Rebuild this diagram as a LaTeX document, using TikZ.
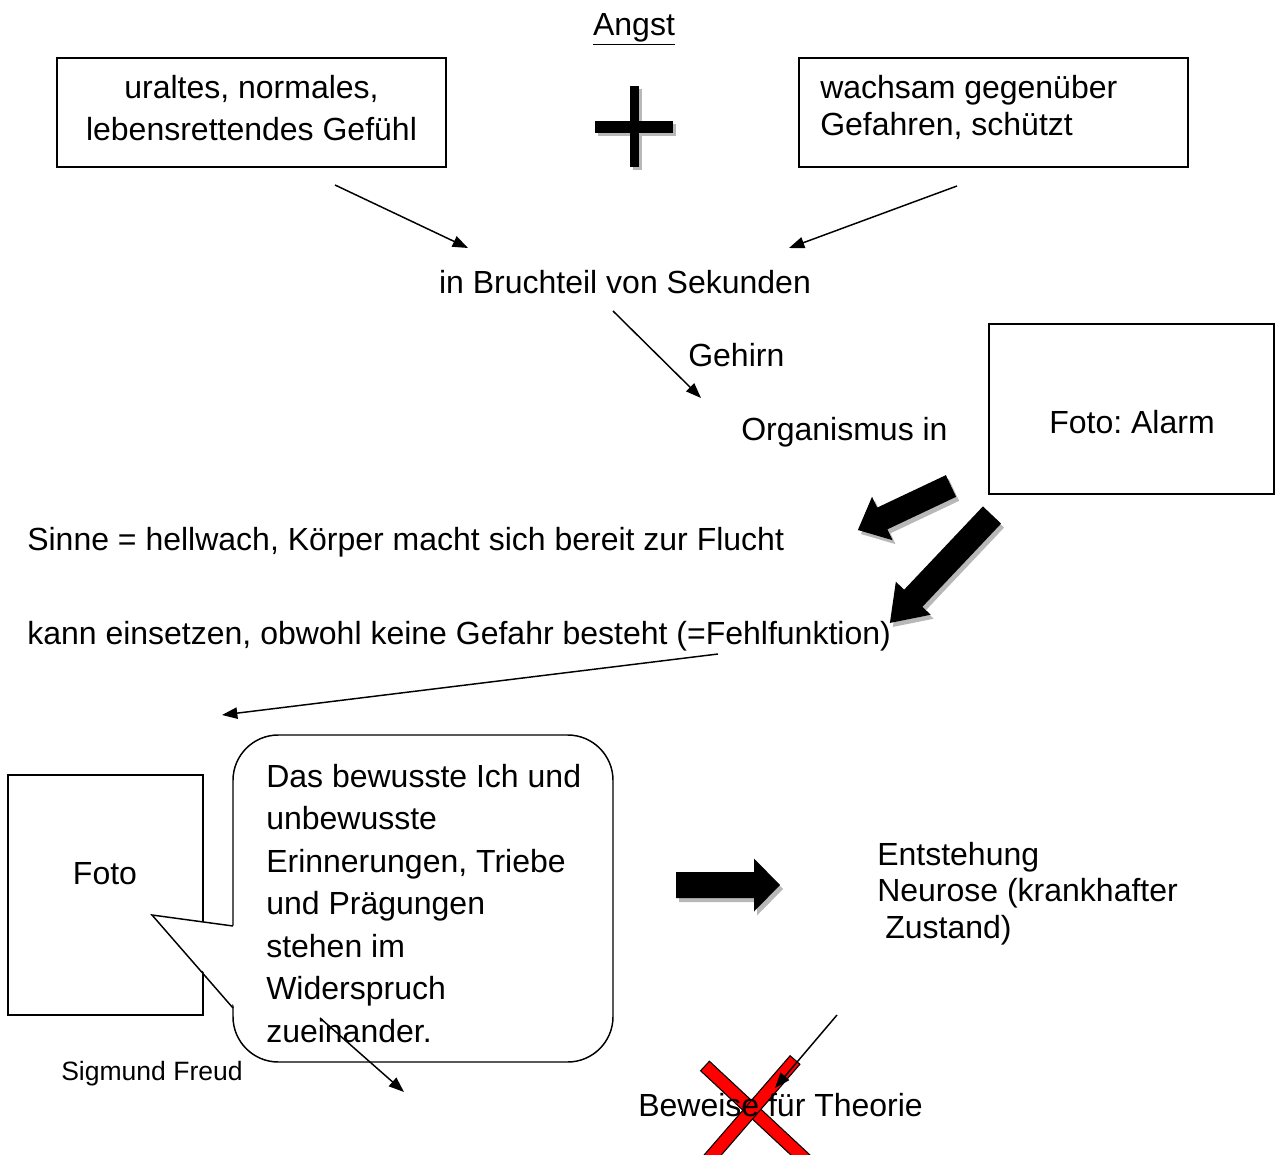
\documentclass[tikz,border=0pt]{standalone}
\usepackage{fontspec}
\setmainfont{Liberation Sans}
\usetikzlibrary{arrows.meta}
\definecolor{shadowgray}{gray}{0.72}
\frenchspacing
\newcommand\blkarrow[7]{%
  \fill[shadowgray, shift={(#1+3,#2+4)}, rotate=#3] (0,-#5) -- (#4-#7,-#5) -- (#4-#7,-#6) -- (#4,0) -- (#4-#7,#6) -- (#4-#7,#5) -- (0,#5) -- cycle;
  \fill[black, shift={(#1,#2)}, rotate=#3] (0,-#5) -- (#4-#7,-#5) -- (#4-#7,-#6) -- (#4,0) -- (#4-#7,#6) -- (#4-#7,#5) -- (0,#5) -- cycle;}
\begin{document}
\begin{tikzpicture}[x=0.75pt, y=-0.75pt, font=\fontsize{24}{28.8}\selectfont,
  box/.style={draw, line width=1.1pt, inner sep=0pt},
  txt/.style={inner sep=0pt, anchor=base west},
  ctxt/.style={inner sep=0pt, anchor=base},
  conn/.style={line width=1.1pt, -{Triangle[length=11.5pt,width=8.5pt]}},
  bar/.style={fill=red, draw=black, line width=0.8pt}]
\useasboundingbox (0,0) rectangle (1275,1155);
\clip (0,0) rectangle (1275,1155);

% title
\node[ctxt] (angst) at (634,36) {\underline{Angst}};

% top boxes
\node[box, minimum width=291.75pt, minimum height=81.75pt] (box1) at (251.5,112.5) {};
\node[ctxt] (box1a) at (251.5,99) {uraltes, normales,};
\node[ctxt] (box1b) at (251.5,141) {lebensrettendes Gefühl};
\node[box, minimum width=291.75pt, minimum height=81.75pt] (box2) at (993.5,112.5) {};
\node[txt] (box2a) at (820,99) {wachsam gegenüber};
\node[txt] (box2b) at (820,136) {Gefahren, schützt};

% plus sign
\fill[shadowgray] (633,89) rectangle (642,170);
\fill[shadowgray] (598,124) rectangle (676,136);
\fill (630,86) rectangle (639,167);
\fill (595,121) rectangle (673,133);

\node[ctxt] (bruch) at (625,294) {in Bruchteil von Sekunden};
\node[txt] (gehirn) at (688,367) {Gehirn};
\node[txt] (organ) at (741,441) {Organismus in};
\node[box, minimum width=213.75pt, minimum height=127.5pt] (alarm) at (1131.5,409) {};
\node[ctxt] (alarmt) at (1132,434) {Foto: Alarm};
\node[txt] (sinne) at (27,551) {Sinne = hellwach, Körper macht sich bereit zur Flucht};
\node[txt] (kann) at (27,644) {kann einsetzen, obwohl keine Gefahr besteht (=Fehlfunktion)};

% block arrows
\blkarrow{951}{486}{205.3}{103}{12}{24}{27}
\blkarrow{992}{515}{226.6}{148.6}{12.5}{24}{34}
\blkarrow{676}{885}{0}{104}{13}{26.5}{26}

% Freud photo and speech bubble
\node[box, minimum width=146.25pt, minimum height=180pt] (foto) at (105.5,895) {};
\node[ctxt] (fotot) at (105,884) {Foto};
\node[draw, line width=1.1pt, fill=white, rounded corners=34pt, minimum width=285pt, minimum height=245.25pt, inner sep=0pt] (bubble) at (423,898.5) {};
\fill[white] (152,915) -- (236,926) -- (236,1008) -- cycle;
\draw[line width=1.1pt] (233,926) -- (152,915) -- (233,1008);
\foreach \t [count=\i] in {Das bewusste Ich und, unbewusste, {Erinnerungen, Triebe}, und Prägungen, stehen im, Widerspruch, zueinander.}
  \node[txt] (bub\i) at (266,{787+42.5*(\i-1)}) {\t};
\node[ctxt, font=\fontsize{19.9}{24}\selectfont] (freud) at (152,1080) {Sigmund Freud};

\node[txt] (ent1) at (877,865) {Entstehung};
\node[txt] (ent2) at (877,901) {Neurose (krankhafter};
\node[txt] (ent3) at (885,938) {Zustand)};

% red cross
\draw[bar, shift={(705,1066)}, rotate=-43] (0,-6.5) rectangle (200,6.5);
\draw[bar, shift={(795,1060)}, rotate=229.1] (0,-6.5) rectangle (200,6.5);
\node[txt] (bew) at (638,1116) {Beweise für Theorie};

% connectors
\coordinate (c1s) at (335,185); \coordinate (c1e) at (468,248);
\coordinate (c2s) at (957,186); \coordinate (c2e) at (789,248);
\coordinate (c3s) at (613,311); \coordinate (c3e) at (701,398);
\coordinate (c4s) at (718,654); \coordinate (c4e) at (222,715);
\coordinate (c5s) at (320,1018); \coordinate (c5e) at (404,1092);
\coordinate (c6s) at (837,1015); \coordinate (c6e) at (775,1088);
\draw[conn] (c1s) -- (c1e);
\draw[conn] (c2s) -- (c2e);
\draw[conn] (c3s) -- (c3e);
\draw[conn] (c4s) -- (c4e);
\draw[conn] (c5s) -- (c5e);
\draw[conn] (c6s) -- (c6e);
\end{tikzpicture}
\end{document}
